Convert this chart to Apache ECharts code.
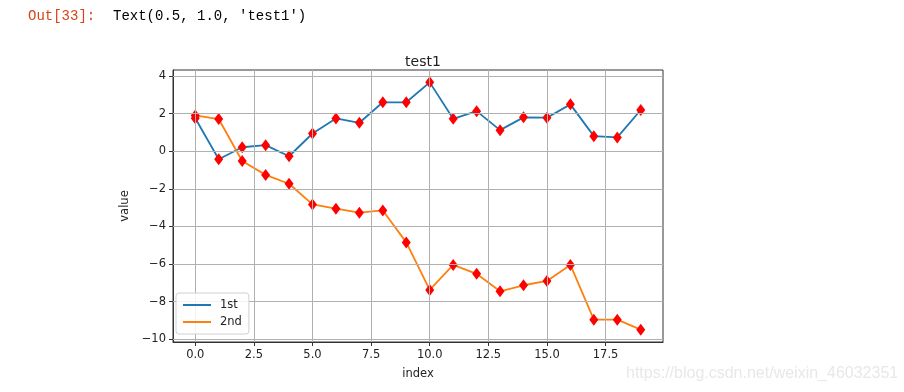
<!DOCTYPE html>
<html>
<head>
<meta charset="utf-8">
<script src="https://cdn.jsdelivr.net/npm/echarts@6/dist/echarts.min.js"></script>
<style>
html,body{margin:0;padding:0;background:#fff;}
#c{width:904px;height:392px;}
</style>
</head>
<body>
<div id="c"></div>
<script>
const indices = [0,1,2,3,4,5,6,7,8,9,10,11,12,13,14,15,16,17,18,19];
const first = [1.75,-0.43,0.21,0.32,-0.27,0.94,1.74,1.51,2.6,2.6,3.66,1.72,2.13,1.12,1.8,1.78,2.49,0.8,0.73,2.19];
const second = [1.9,1.71,-0.52,-1.26,-1.73,-2.83,-3.06,-3.27,-3.15,-4.85,-7.38,-6.05,-6.52,-7.45,-7.13,-6.9,-6.05,-8.96,-8.96,-9.49];
const xTicks = [0,2.5,5,7.5,10,12.5,15,17.5];
const yTicks = [-10,-8,-6,-4,-2,0,2,4];
const seriesNames = ['1st','2nd'];
const titleText = 'test1';
const xName = 'index';
const yName = 'value';

const all = first.concat(second);
const yMin = Math.min(...all), yMax = Math.max(...all);
const yr = yMax - yMin;
const xMin = Math.min(...indices), xMax = Math.max(...indices);
const xr = xMax - xMin;

const fmtNum = (v, d) => {
  const s = Math.abs(v).toFixed(d);
  return v < 0 ? '\u2212' + s : s;
};
const font = 'DejaVu Sans';
const chart = echarts.init(document.getElementById('c'));
const axisCommon = {
  axisLine: {show: true, onZero: false, lineStyle: {color: '#333', width: 1}},
  splitLine: {show: false},
};
chart.setOption({
  animation: false,
  title: {text: titleText, left: 418, top: 50, textAlign: 'center',
    textStyle: {fontFamily: font, fontSize: 14, fontWeight: 'normal', color: '#222'}},
  grid: {left: 173, top: 70, right: 241, bottom: 50, show: true, borderColor: '#333', borderWidth: 1, containLabel: false},
  legend: {
    data: seriesNames, orient: 'vertical', left: 176, top: 293, z: 20, zlevel: 1,
    padding: [6, 7, 6, 7], itemGap: 5, itemWidth: 28, itemHeight: 2, icon: 'rect',
    borderColor: '#d0d0d0', borderWidth: 1, borderRadius: 3, backgroundColor: 'rgba(255,255,255,0.85)',
    inactiveColor: '#222',
    textStyle: {fontFamily: font, fontSize: 11.5, color: '#222', padding: [0,0,0,4]}
  },
  xAxis: Object.assign({
    type: 'value', min: xMin - 0.05 * xr, max: xMax + 0.05 * xr,
    name: xName, nameLocation: 'middle', nameGap: 26,
    nameTextStyle: {fontFamily: font, fontSize: 11.5, color: '#222'},
    axisTick: {show: true, inside: false, length: 4, customValues: xTicks, lineStyle: {color: '#333'}},
    axisLabel: {customValues: xTicks, margin: 7, fontFamily: font, fontSize: 11.5, color: '#222',
      formatter: v => fmtNum(v, 1)}
  }, axisCommon),
  yAxis: Object.assign({
    type: 'value', min: yMin - 0.05 * yr, max: yMax + 0.05 * yr,
    name: yName, nameLocation: 'middle', nameGap: 40,
    nameTextStyle: {fontFamily: font, fontSize: 11.5, color: '#222'},
    axisTick: {show: true, inside: false, length: 4, customValues: yTicks, lineStyle: {color: '#333'}},
    axisLabel: {customValues: yTicks, margin: 7, fontFamily: font, fontSize: 11.5, color: '#222',
      formatter: v => fmtNum(v, 0)}
  }, axisCommon),
  graphic: [
    {type: 'text', left: 28, top: 9, style: {text: 'Out[33]:', font: '14px "Liberation Mono"', fill: '#d84315'}},
    {type: 'text', left: 113, top: 9, style: {text: "Text(0.5, 1.0, 'test1')", font: '14px "Liberation Mono"', fill: '#000'}},
    {type: 'text', left: 626, top: 366, style: {text: 'https://blog.csdn.net/weixin_46032351', font: '16px "Liberation Sans"', fill: '#e8e8e8'}}
  ],
  series: [
    {type: 'line', name: '_grid', data: [], z: 0, silent: true,
      markLine: {silent: true, symbol: 'none', animation: false, label: {show: false},
        lineStyle: {color: '#b0b0b0', width: 1, type: 'solid'},
        data: xTicks.map(v => ({xAxis: v})).concat(yTicks.map(v => ({yAxis: v})))}},
    {type: 'line', name: seriesNames[0], data: indices.map((x, i) => [x, first[i]]),
      showSymbol: false, lineStyle: {color: '#1f77b4', width: 1.8}, itemStyle: {color: '#1f77b4'}, z: 2},
    {type: 'line', name: seriesNames[1], data: indices.map((x, i) => [x, second[i]]),
      showSymbol: false, lineStyle: {color: '#ff7f0e', width: 1.8}, itemStyle: {color: '#ff7f0e'}, z: 2},
    {type: 'scatter', name: 'm1', data: indices.map((x, i) => [x, first[i]]),
      symbol: 'diamond', symbolSize: [9, 12], itemStyle: {color: '#ff0000', opacity: 1}, z: 3},
    {type: 'scatter', name: 'm2', data: indices.map((x, i) => [x, second[i]]),
      symbol: 'diamond', symbolSize: [9, 12], itemStyle: {color: '#ff0000', opacity: 1}, z: 3}
  ]
});
</script>
</body>
</html>
